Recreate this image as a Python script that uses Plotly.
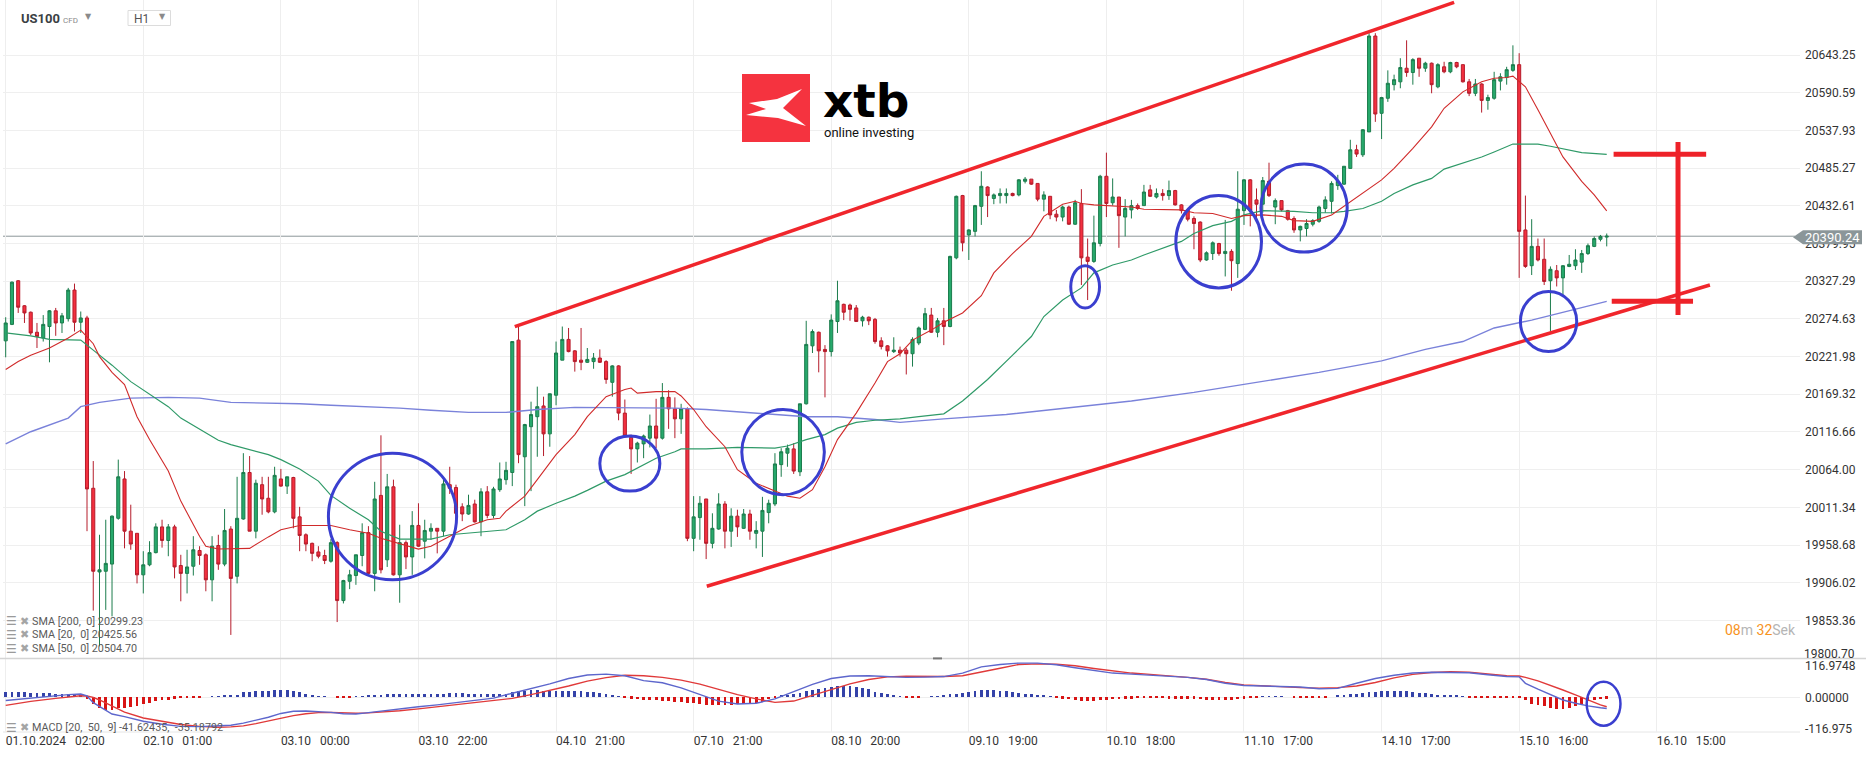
import plotly.graph_objects as go

# ---------------- data (US100 CFD, H1) ----------------
open_ = [
 20244,20267,20328,20293,20284,20256,20248,20264,20286,20269,
 20275,20315,20270,20276,20038,19921,19922,19932,19996,20051,
 19978,19975,19917,19931,19948,19984,19965,19984,19930,19919,
 19929,19951,19945,19910,19958,19932,19981,19915,19995,20060,
 19978,20043,20024,20005,20051,20041,20053,19998,19973,19961,
 19949,19944,19936,19962,19881,19908,19916,19944,19976,19919,
 20028,19938,20040,19917,19962,19942,19986,19964,19978,19982,
 19978,20043,20039,20012,20002,20016,19991,20033,20000,20036,
 20050,20060,20245,20082,20124,20138,20153,20114,20168,20217,
 20246,20230,20217,20214,20215,20220,20215,20186,20209,20143,
 20109,20093,20100,20108,20125,20108,20165,20149,20135,20149,
 19968,19997,20023,19961,19981,20016,19978,19999,19982,20002,
 19975,19978,20004,20016,20071,20087,20093,20061,20156,20237,
 20256,20232,20229,20271,20295,20294,20290,20272,20277,20274,
 20244,20237,20229,20231,20231,20226,20241,20260,20280,20256,
 20272,20264,20360,20447,20392,20397,20432,20459,20443,20447,
 20447,20450,20448,20467,20470,20464,20442,20446,20421,20417,
 20431,20407,20436,20361,20355,20380,20474,20437,20445,20417,
 20427,20433,20433,20455,20445,20450,20447,20454,20434,20427,
 20415,20410,20357,20366,20380,20366,20369,20352,20426,20469,
 20441,20435,20467,20431,20440,20426,20415,20399,20401,20407,
 20411,20429,20439,20461,20463,20485,20511,20504,20536,20670,
 20562,20583,20602,20606,20625,20619,20639,20625,20632,20599,
 20627,20620,20633,20630,20606,20590,20603,20580,20583,20607,
 20612,20622,20630,20399,20349,20376,20358,20328,20342,20332,
 20348,20349,20354,20366,20376,20386,20389]
high = [
 20277,20327,20329,20294,20285,20269,20280,20287,20290,20283,
 20318,20324,20285,20279,20076,19973,19994,20000,20078,20062,
 20015,19975,19950,19964,19989,19994,19988,19987,19945,19952,
 19971,19957,19947,19971,19973,20009,19985,20054,20087,20083,
 20050,20054,20054,20068,20065,20054,20054,20012,19975,19962,
 19957,19952,19967,19964,19910,19924,19945,19989,19985,20047,
 20112,20058,20050,19987,19965,20006,20017,19994,19989,19982,
 20050,20068,20043,20017,20029,20022,20038,20041,20040,20074,
 20075,20243,20264,20128,20159,20180,20166,20170,20243,20264,
 20262,20231,20262,20234,20227,20232,20217,20210,20210,20162,
 20113,20103,20113,20141,20163,20185,20175,20165,20156,20151,
 20027,20027,20023,20003,20031,20020,20010,20008,20009,20008,
 19992,20026,20022,20087,20094,20099,20101,20156,20272,20260,
 20257,20238,20281,20328,20296,20296,20294,20279,20278,20276,
 20249,20238,20249,20236,20234,20249,20264,20290,20290,20276,
 20290,20363,20447,20448,20400,20434,20481,20460,20450,20457,
 20457,20451,20470,20473,20470,20464,20453,20446,20427,20433,
 20433,20441,20456,20387,20419,20476,20507,20471,20445,20442,
 20441,20436,20462,20462,20457,20456,20468,20455,20435,20429,
 20418,20411,20369,20383,20381,20413,20372,20481,20470,20470,
 20457,20473,20493,20443,20440,20427,20418,20405,20414,20414,
 20433,20446,20467,20476,20488,20525,20518,20540,20674,20674,
 20585,20622,20616,20639,20664,20639,20639,20634,20633,20632,
 20634,20634,20634,20630,20610,20610,20604,20588,20620,20618,
 20627,20657,20646,20447,20414,20387,20387,20348,20350,20350,
 20364,20372,20371,20380,20390,20392,20394]
low = [
 20221,20266,20283,20269,20252,20234,20243,20214,20251,20255,
 20271,20257,20255,19978,19867,19817,19868,19859,19994,19954,
 19952,19905,19891,19929,19947,19955,19943,19912,19880,19891,
 19916,19931,19894,19880,19924,19929,19833,19905,19994,19978,
 19968,20001,20003,20003,20040,20030,19982,19950,19950,19936,
 19940,19932,19934,19851,19877,19897,19903,19929,19918,19894,
 19919,19928,19916,19878,19925,19917,19956,19940,19966,19947,
 19971,20030,19992,19992,20001,19990,19971,19996,19996,20033,
 20043,20041,20073,20013,20034,20082,20083,20096,20154,20217,
 20228,20201,20203,20213,20205,20213,20184,20166,20133,20109,
 20058,20074,20080,20095,20094,20106,20121,20108,20114,19964,
 19950,19966,19939,19954,19980,19954,19956,19970,19981,19966,
 19954,19942,19989,20013,20054,20068,20058,20055,20155,20227,
 20200,20165,20222,20255,20273,20272,20271,20264,20266,20240,
 20232,20222,20227,20222,20197,20208,20238,20259,20255,20249,
 20238,20263,20358,20369,20357,20390,20406,20417,20435,20436,
 20436,20446,20446,20464,20462,20439,20425,20414,20411,20411,
 20406,20406,20322,20301,20353,20376,20417,20433,20374,20390,
 20415,20427,20433,20445,20443,20440,20441,20433,20422,20411,
 20372,20354,20356,20357,20363,20334,20314,20332,20406,20404,
 20413,20423,20445,20407,20425,20412,20395,20383,20390,20404,
 20409,20423,20422,20455,20462,20485,20501,20501,20536,20550,
 20526,20578,20594,20597,20613,20602,20613,20620,20590,20597,
 20618,20618,20625,20605,20586,20586,20563,20567,20581,20594,
 20602,20620,20332,20346,20336,20355,20322,20257,20320,20306,
 20347,20343,20339,20364,20375,20383,20376]
close = [
 20269,20326,20291,20283,20255,20250,20267,20286,20269,20279,
 20315,20270,20276,20037,19922,19924,19933,19999,20054,19978,
 19960,19917,19931,19948,19984,19965,19984,19928,19919,19928,
 19952,19944,19910,19957,19932,19979,19912,19996,20060,19978,
 20045,20023,20005,20056,20041,20054,19996,19972,19960,19947,
 19943,19937,19962,19881,19909,19917,19945,19976,19919,20023,
 19924,20040,19917,19962,19942,19986,19957,19979,19982,19978,
 20044,20038,20003,20002,20014,19991,20033,20000,20037,20051,
 20063,20243,20085,20127,20141,20152,20114,20170,20227,20246,
 20229,20215,20214,20218,20220,20214,20190,20209,20143,20111,
 20093,20101,20111,20125,20108,20165,20149,20135,20149,19968,
 19998,20017,19961,19982,20016,19978,19999,19984,20002,19978,
 19979,20007,20017,20072,20089,20094,20062,20156,20239,20257,
 20230,20229,20273,20300,20284,20288,20271,20277,20272,20243,
 20236,20230,20231,20227,20226,20246,20262,20282,20256,20272,
 20264,20362,20446,20381,20399,20433,20460,20447,20448,20450,
 20450,20447,20469,20470,20463,20442,20448,20420,20417,20431,
 20407,20437,20360,20355,20381,20474,20436,20445,20419,20429,
 20433,20429,20452,20446,20450,20447,20454,20434,20426,20414,
 20408,20357,20367,20381,20366,20369,20356,20428,20469,20426,
 20435,20468,20447,20440,20427,20414,20399,20404,20408,20412,
 20431,20441,20464,20467,20488,20511,20505,20539,20670,20561,
 20584,20604,20609,20626,20619,20637,20625,20632,20602,20630,
 20620,20633,20627,20606,20590,20603,20580,20584,20609,20613,
 20623,20630,20397,20348,20376,20357,20327,20344,20332,20349,
 20351,20357,20366,20377,20387,20390,20390.24]
bars = list(range(len(close)))

# moving averages: (bar, value)
sma20 = [(0,20204),(2,20215),(4,20224),(7,20234),(10,20248),(12,20259),(14,20240),(15,20222),
 (17,20200),(19,20183),(21,20138),(23,20106),(26,20062),(28,20020),(31,19971),(32,19957),(34,19953),
 (37,19953),(39,19954),(42,19970),(44,19980),(47,19986),(50,19986),(52,19986),(55,19980),(58,19975),
 (60,19968),(63,19961),(66,19953),(68,19957),(71,19971),(74,19985),(77,19994),(79,19996),(80,20006),
 (83,20027),(85,20050),(88,20085),(91,20113),(93,20138),(96,20166),(99,20176),(100,20178),(101,20171),
 (104,20173),(107,20173),(108,20167),(110,20148),(112,20124),(115,20096),(117,20064),(120,20045),
 (123,20034),(125,20027),(127,20024),(129,20036),(131,20068),(133,20106),(136,20143),(139,20185),
 (141,20215),(143,20226),(145,20245),(148,20259),(150,20270),(153,20283),(156,20307),(158,20339),
 (161,20366),(164,20390),(166,20418),(169,20435),(171,20439),(172,20436),(174,20434),(177,20433),
 (180,20431),(182,20428),(185,20427),(188,20427),(190,20423),(193,20422),(196,20415),(198,20419),
 (201,20420),(204,20418),(206,20412),(209,20411),(212,20420),(214,20432),(217,20450),(220,20469),
 (222,20485),(225,20513),(228,20543),(230,20569),(233,20592),(236,20606),(238,20611),(240,20612),
 (241,20614),(243,20599),(245,20567),(247,20534),(249,20501),(252,20467),(254,20448),(256,20425.56)]
sma50 = [(0,20255),(4,20251),(7,20246),(12,20245),(14,20231),(17,20210),(20,20187),(23,20169),
 (26,20152),(28,20136),(31,20120),(34,20105),(36,20099),(39,20092),(42,20085),(44,20078),(47,20065),
 (50,20048),(52,20028),(55,20010),(58,19994),(60,19978),(63,19967),(66,19967),(68,19967),(71,19973),
 (74,19975),(77,19978),(80,19980),(83,19994),(85,20006),(88,20017),(91,20027),(93,20035),(96,20048),
 (99,20057),(101,20066),(104,20080),(107,20089),(108,20093),(112,20093),(117,20095),(123,20094),
 (125,20097),(128,20106),(131,20113),(133,20122),(136,20130),(139,20133),(143,20135),(146,20138),
 (150,20142),(153,20160),(155,20175),(157,20190),(161,20224),(164,20250),(166,20278),(169,20301),
 (172,20318),(174,20339),(177,20350),(180,20357),(182,20364),(185,20373),(188,20383),(190,20394),
 (193,20405),(196,20411),(198,20420),(201,20426),(204,20426),(206,20425),(209,20423),(212,20423),
 (214,20425),(217,20429),(220,20439),(222,20450),(225,20462),(228,20471),(230,20484),(233,20492),
 (236,20501),(238,20508),(241,20519),(243,20519),(245,20519),(247,20516),(249,20512),(252,20507),
 (256,20504.70)]
sma200 = [(0,20100),(4,20117),(10,20136),(12,20152),(15,20158),(20,20164),(26,20165),(31,20164),
 (36,20158),(42,20157),(47,20156),(52,20154),(58,20152),(63,20150),(68,20147),(74,20144),(80,20144),
 (85,20148),(91,20151),(96,20151),(101,20151),(107,20150),(112,20148),(117,20145),(123,20141),
 (128,20138),(133,20138),(139,20134),(143,20130),(150,20135),(160,20141),(170,20150),(180,20160),
 (190,20172),(200,20186),(210,20200),(220,20216),(227,20232),(233,20243),(238,20262),(244,20273),
 (249,20284),(256,20299.23)]

# MACD [20, 50, 9]: (bar, macd, signal)
macd = [(0,-12,-30),(4,-3,-15),(8,7,-4),(10,10,2),(12,12,6),(13,5,5),(14,-20,0),(15,-35,-10),
 (17,-62,-33),(19,-72,-55),(22,-89,-77),(25,-100,-90),(28,-108,-101),(31,-109,-108),(34,-107,-111),
 (36,-104,-110),(38,-96,-106),(40,-86,-98),(42,-74,-88),(44,-60,-77),(46,-52,-68),(48,-51,-61),
 (50,-53,-57),(52,-56,-56),(54,-61,-58),(56,-62,-59),(58,-57,-58),(60,-51,-55),(63,-42,-50),
 (66,-35,-43),(69,-28,-35),(72,-20,-28),(75,-12,-21),(78,-3,-13),(81,15,-4),(84,32,10),(87,50,25),
 (90,70,42),(93,83,60),(96,86,73),(99,80,82),(102,62,80),(105,54,74),(108,35,64),(111,10,49),
 (114,-14,30),(117,-25,10),(120,-22,-6),(123,-6,-19),(126,22,-14),(129,48,8),(132,70,30),(135,79,50),
 (138,80,66),(141,77,76),(144,74,78),(147,75,77),(150,77,77),(153,90,80),(156,113,95),(159,122,108),
 (162,127,122),(165,127,124),(168,121,123),(171,110,117),(174,100,107),(177,90,98),(180,86,90),
 (183,82,85),(186,79,80),(189,74,74),(192,66,67),(195,52,55),(198,44,46),(201,42,42),(204,41,39),
 (207,38,36),(210,32,34),(213,33,36),(216,52,42),(219,70,55),(222,82,72),(225,90,85),(228,93,92),
 (231,93,95),(234,91,93),(237,84,87),(240,77,80),(242,76,79),(243,52,74),(245,30,61),(247,10,45),
 (249,-10,27),(251,-22,9),(253,-32,-10),(255,-39,-28),(256,-41.62,-35.19)]
hist = [
 18,18,18,17,16,15,14,13,12,11,
 10,9,7,-6,-25,-40,-48,-48,-42,-40,
 -37,-33,-27,-21,-15,-12,-10,-7,-5,-4,
 -2.5,-1,0,1,2.5,4,5,7,17,20,
 21,22,23.5,25,26,26,22,17,10,5,
 2.5,0.5,0,-2,-2,-2,0.5,2.5,4,5,
 7,9,9,10,10,11,12,12,11,10,
 11,15,14,13,12,11,10,10,11,12,
 12,18,21,23,25,24,21,21,22,22,
 22,22,21,20,18,16,12,6,1,-4,
 -6,-8,-10,-12,-13,-15,-16,-18,-20,-21,
 -24,-27,-29,-30,-31,-30,-29,-28,-27,-25,
 -21,-18,-9,-3,4,8,12,16,21,26,
 31,34,37,39,41,39,37,33,28,19,
 14,9,4,1,-1,-2,-1,0,1,2,
 5,10,12,16,19,21,25,26,25,23,
 21,18,16,12,10,8,5,1,-4,-6,
 -9,-12,-15,-17,-15,-12,-10,-9,-8,-6,
 -6,-5,-5,-5,-5,-5,-6,-6,-7,-7,
 -7,-9,-11,-12,-12,-11,-11,-9,-6,-3,
 -1,2,2,2,2,0,-2,-2,-2,-2,
 -2,-1,0,4,7,9,12,15,17,19,
 22,22,22,22,21,19,16,13,10,8,
 6,5,4,1,-2,-2,-2,-2,-2,-2,
 -2,-3,-5,-12,-25,-30,-35,-42,-44,-46,
 -40,-33,-27,-17,-12,-8,-6]

tick_bars = [0, 22, 44, 66, 88, 110, 132, 154, 176, 198, 220, 242, 264]
NB = "\u00a0"
tick_text = ["01.10.2024" + NB*2 + " 02:00", "02.10" + NB*2 + " 01:00", "03.10" + NB*2 + " 00:00",
             "03.10" + NB*2 + " 22:00", "04.10" + NB*2 + " 21:00", "07.10" + NB*2 + " 21:00",
             "08.10" + NB*2 + " 20:00", "09.10" + NB*2 + " 19:00", "10.10" + NB*2 + " 18:00",
             "11.10" + NB*2 + " 17:00", "14.10" + NB*2 + " 17:00", "15.10" + NB*2 + " 16:00",
             "16.10" + NB*2 + " 15:00"]
price_ticks = [19800.70, 19853.36, 19906.02, 19958.68, 20011.34, 20064.00, 20116.66, 20169.32,
               20221.98, 20274.63, 20327.29, 20379.95, 20432.61, 20485.27, 20537.93, 20590.59, 20643.25]
price_tick_text = ["%.2f" % v for v in price_ticks]
macd_ticks = [116.9748, 0.0, -116.975]
macd_tick_text = ["116.9748", "0.00000", "-116.975"]
last_price = 20390.24

# annotation drawings (bar, price)
channel_upper = [(81.4, 20264), (231.6, 20717)]
channel_lower = [(112.1, 19901), (272.5, 20322)]
bracket_x = 267.4
bracket_top = 20504.70   # SMA50 level
bracket_bottom = 20299.23  # SMA200 level
price_ellipses = [(51.6, 72.1, 19910, 20087), (95.0, 104.6, 20034, 20111), (117.7, 130.9, 20029, 20148),
                  (170.3, 174.9, 20290, 20349), (187.1, 200.8, 20318, 20447), (200.7, 214.5, 20368, 20491),
                  (242.2, 251.2, 20229, 20313)]
macd_ellipse = (252.8, 258.2, -106, 58)

# ---------------- figure ----------------
W, H = 1866, 759
ML, MR, MT, MB = 3, 66, 0, 27
PW, PH = W - ML - MR, H - MT - MB
SPLIT = 658.4  # pixel row of pane separator


def px(x):
    return (x - ML) / PW


def py(y):
    return (PH - y) / PH


dom_main = [py(SPLIT), 1.0]
dom_macd = [0.0, py(SPLIT)]

fig = go.Figure()
fig.add_trace(go.Candlestick(
    x=bars, open=open_, high=high, low=low, close=close,
    increasing=dict(fillcolor="#27a96c", line=dict(color="#1b7c4c", width=1)),
    decreasing=dict(fillcolor="#f3303f", line=dict(color="#b51c2b", width=1)),
    whiskerwidth=0, xaxis="x", yaxis="y", hoverinfo="skip"))

for pts, col, wdt in [(sma200, "#7a82da", 1.4), (sma50, "#2f9a68", 1.2), (sma20, "#d02a2a", 1.1)]:
    fig.add_trace(go.Scatter(x=[p[0] for p in pts], y=[p[1] for p in pts], mode="lines",
                             line=dict(color=col, width=wdt), xaxis="x", yaxis="y", hoverinfo="skip"))

fig.add_trace(go.Bar(x=bars, y=hist, width=0.45,
                     marker=dict(color=["#3442a8" if v >= 0 else "#d81414" for v in hist], line=dict(width=0)),
                     xaxis="x2", yaxis="y2", hoverinfo="skip"))
fig.add_trace(go.Scatter(x=[m[0] for m in macd], y=[m[2] for m in macd], mode="lines",
                         line=dict(color="#e03a3a", width=1.4), xaxis="x2", yaxis="y2", hoverinfo="skip"))
fig.add_trace(go.Scatter(x=[m[0] for m in macd], y=[m[1] for m in macd], mode="lines",
                         line=dict(color="#5d66cc", width=1.4), xaxis="x2", yaxis="y2", hoverinfo="skip"))

xr = [(ML - 5.7) / 6.254, (ML + PW - 5.7) / 6.254]
common_x = dict(range=xr, tickmode="array", tickvals=tick_bars, showgrid=True, gridcolor="#eeeeee",
                gridwidth=1, zeroline=False, showline=False, ticks="", fixedrange=True)
# the bottom price label is drawn as an annotation (nudged up like the original), gridline kept
axis_text = price_tick_text[:]
axis_text[0] = ""
fig.update_layout(
    width=W, height=H, margin=dict(l=ML, r=MR, t=MT, b=MB),
    paper_bgcolor="white", plot_bgcolor="white", showlegend=False, bargap=0,
    font=dict(family="Roboto, Noto Sans, sans-serif", color="#333333", size=12),
    xaxis=dict(**common_x, anchor="y", showticklabels=False, rangeslider=dict(visible=False)),
    xaxis2=dict(**common_x, anchor="y2", matches="x", ticktext=tick_text, showticklabels=True,
                ticklabelposition="outside right", tickfont=dict(size=12, color="#333333")),
    yaxis=dict(domain=dom_main, range=[19800.2, 20720.35], side="right", tickmode="array",
               tickvals=price_ticks, ticktext=axis_text, showgrid=True, gridcolor="#efefef",
               zeroline=False, ticks="", ticklabelstandoff=4, tickfont=dict(size=12, color="#333333"),
               fixedrange=True),
    yaxis2=dict(domain=dom_macd, range=[-128.9, 144.5], side="right", tickmode="array",
                tickvals=macd_ticks, ticktext=macd_tick_text, showgrid=False, zeroline=True,
                zerolinecolor="#eeeeee", zerolinewidth=1, ticks="", ticklabelstandoff=4,
                tickfont=dict(size=12, color="#333333"), fixedrange=True),
)

shapes = []
shapes.append(dict(type="line", xref="paper", yref="paper", x0=px(0), x1=px(W), y0=py(SPLIT), y1=py(SPLIT),
                   line=dict(color="#d4d4d4", width=1.5), layer="above"))
shapes.append(dict(type="line", xref="paper", yref="paper", x0=0, x1=1, y0=0, y1=0,
                   line=dict(color="#e6e6e6", width=1), layer="below"))
shapes.append(dict(type="line", xref="paper", yref="paper", x0=px(933), x1=px(942), y0=py(SPLIT), y1=py(SPLIT),
                   line=dict(color="#777777", width=2), layer="above"))
shapes.append(dict(type="line", xref="paper", yref="y", x0=0, x1=px(1795), y0=last_price, y1=last_price,
                   line=dict(color="#8d9699", width=1), layer="below"))
shapes.append(dict(type="path", xref="paper", yref="paper",
                   path="M %f,%f L %f,%f L %f,%f L %f,%f L %f,%f Z" % (
                       px(1793), py(237.3), px(1803), py(230.3), px(1862), py(230.3),
                       px(1862), py(244.3), px(1803), py(244.3)),
                   fillcolor="#8b9699", line=dict(width=0), layer="above"))
for (a, b) in [channel_upper, channel_lower]:
    shapes.append(dict(type="line", xref="x", yref="y", x0=a[0], y0=a[1], x1=b[0], y1=b[1],
                       line=dict(color="#f0262c", width=3.5), layer="above"))
shapes.append(dict(type="line", xref="x", yref="y", x0=bracket_x, x1=bracket_x, y0=20280, y1=20522,
                   line=dict(color="#ee2229", width=5), layer="above"))
shapes.append(dict(type="line", xref="x", yref="y", x0=257.1, x1=271.9, y0=bracket_top, y1=bracket_top,
                   line=dict(color="#ee2229", width=5), layer="above"))
shapes.append(dict(type="line", xref="x", yref="y", x0=256.8, x1=269.8, y0=bracket_bottom, y1=bracket_bottom,
                   line=dict(color="#ee2229", width=5), layer="above"))
for (x0, x1, y0, y1) in price_ellipses:
    shapes.append(dict(type="circle", xref="x", yref="y", x0=x0, x1=x1, y0=y0, y1=y1,
                       line=dict(color="#3a3fcf", width=3), layer="above"))
x0, x1, y0, y1 = macd_ellipse
shapes.append(dict(type="circle", xref="x2", yref="y2", x0=x0, x1=x1, y0=y0, y1=y1,
                   line=dict(color="#3a3fcf", width=2.5), layer="above"))
# xtb logo
shapes.append(dict(type="rect", xref="paper", yref="paper", x0=px(742), x1=px(810), y0=py(142), y1=py(74),
                   fillcolor="#f5333f", line=dict(width=0), layer="above"))
logo_pts = [(749, 103), (777, 99), (802, 89), (783, 108), (806, 126), (778, 118), (746, 115), (766, 109)]
shapes.append(dict(type="path", xref="paper", yref="paper",
                   path="M " + " L ".join("%f,%f" % (px(a), py(b)) for a, b in logo_pts) + " Z",
                   fillcolor="white", line=dict(width=0), layer="above"))
shapes.append(dict(type="rect", xref="paper", yref="paper", x0=px(128), x1=px(170.5), y0=py(25.5), y1=py(10.5),
                   fillcolor="white", line=dict(color="#dcdcdc", width=1), layer="above"))
fig.update_layout(shapes=shapes)

ann = []


def txt(x, y, s, size=12, color="#555555", anchor="left", family=None, bold=False):
    f = dict(size=size, color=color)
    if family:
        f["family"] = family
    ann.append(dict(xref="paper", yref="paper", x=px(x), y=py(y), text=("<b>%s</b>" % s) if bold else s,
                    showarrow=False, xanchor=anchor, yanchor="middle", font=f))


txt(1802, 653.5, price_tick_text[0], 12, "#333333")
txt(1832.5, 237.3, "20390.24", 13, "white", "center")
txt(19, 19, "US100", 13, "#3b3f44", bold=True)
txt(61, 20, "CFD", 8, "#8a8a8a")
txt(83, 17, "▼", 8, "#8a8a8a", family="DejaVu Sans")
txt(132, 19, "H1", 12, "#555555")
txt(157, 16, "▼", 8, "#8a8a8a", family="DejaVu Sans")
txt(821, 100, "xtb", 47, "#000000", family="DejaVu Sans", bold=True)
txt(822, 132.5, "online investing", 13, "#111111")
legend_rows = [(621, "SMA [200," + NB * 2 + "0] 20299.23"), (634.5, "SMA [20," + NB * 2 + "0] 20425.56"),
               (648.5, "SMA [50," + NB * 2 + "0] 20504.70"),
               (727.5, "MACD [20," + NB * 2 + "50," + NB * 2 + "9] -41.62435," + NB * 2 + "-35.18792")]
for yy, s in legend_rows:
    txt(4, yy, "☰", 12, "#9a9a9a", family="DejaVu Sans")
    txt(18, yy, "✖", 11, "#a5a5a5", family="DejaVu Sans")
    txt(30, yy, s, 10.8, "#5a5a5a")
ann.append(dict(xref="paper", yref="paper", x=px(1723), y=py(630), xanchor="left", yanchor="middle",
                showarrow=False, font=dict(size=14),
                text="<span style='color:#f7931e'>08</span><span style='color:#b5b5b5'>m</span> "
                     "<span style='color:#f7931e'>32</span><span style='color:#b5b5b5'>Sek</span>"))
fig.update_layout(annotations=ann)

fig.write_html("out.html", config=dict(displayModeBar=False))
